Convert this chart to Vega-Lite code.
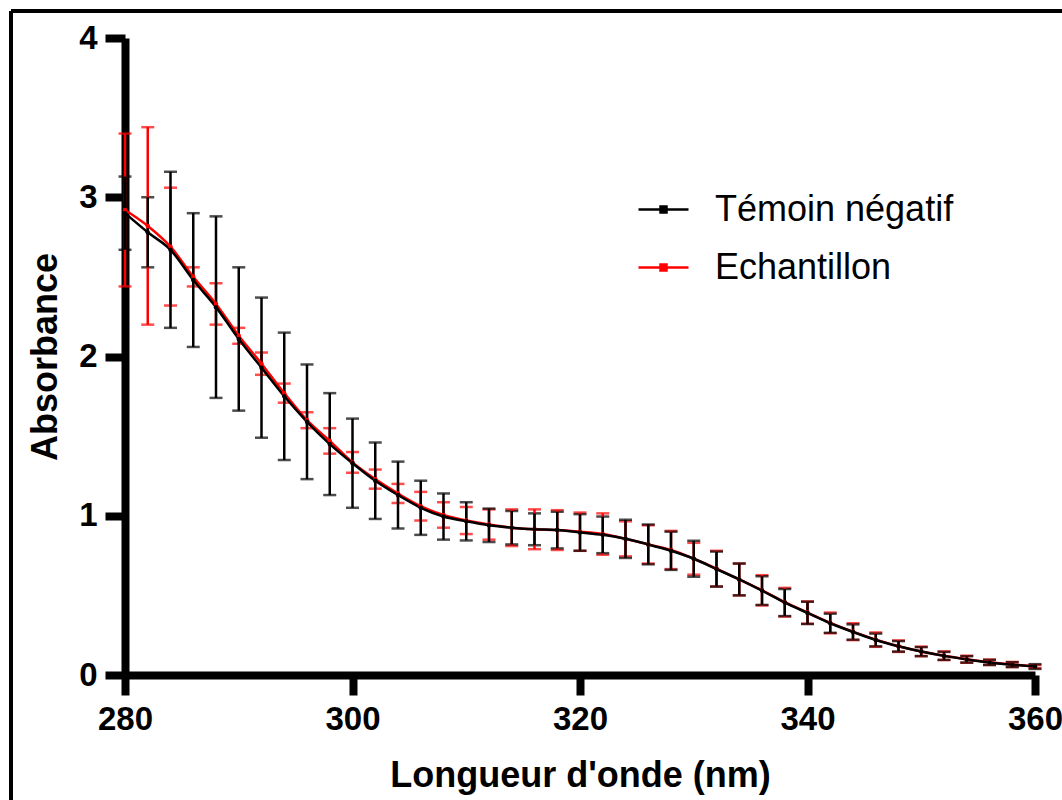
{
  "$schema": "https://vega.github.io/schema/vega-lite/v6.json",
  "width": 910,
  "height": 637,
  "autosize": {"type": "none"},
  "padding": {"left": 125, "top": 38, "right": 27, "bottom": 125},
  "background": "white",
  "config": {
    "view": {"stroke": null},
    "axis": {
      "grid": false,
      "domainColor": "black",
      "domainWidth": 8,
      "tickColor": "black",
      "tickWidth": 8,
      "tickSize": 20,
      "labelFont": "Liberation Sans",
      "labelFontWeight": "bold",
      "labelFontSize": 33,
      "labelColor": "black",
      "titleFont": "Liberation Sans",
      "titleFontWeight": "bold",
      "titleFontSize": 36,
      "titleColor": "black",
      "labelFlush": false,
      "labelOverlap": false
    }
  },
  "data": {
    "values": [
      {"wl": 280, "serie": "Echantillon", "mean": 2.92, "sd": 0.48},
      {"wl": 282, "serie": "Echantillon", "mean": 2.82, "sd": 0.62},
      {"wl": 284, "serie": "Echantillon", "mean": 2.69, "sd": 0.37},
      {"wl": 286, "serie": "Echantillon", "mean": 2.5, "sd": 0.06},
      {"wl": 288, "serie": "Echantillon", "mean": 2.33, "sd": 0.13},
      {"wl": 290, "serie": "Echantillon", "mean": 2.13, "sd": 0.05},
      {"wl": 292, "serie": "Echantillon", "mean": 1.955, "sd": 0.07},
      {"wl": 294, "serie": "Echantillon", "mean": 1.77, "sd": 0.06},
      {"wl": 296, "serie": "Echantillon", "mean": 1.6, "sd": 0.05},
      {"wl": 298, "serie": "Echantillon", "mean": 1.47, "sd": 0.08},
      {"wl": 300, "serie": "Echantillon", "mean": 1.335, "sd": 0.065},
      {"wl": 302, "serie": "Echantillon", "mean": 1.23, "sd": 0.06},
      {"wl": 304, "serie": "Echantillon", "mean": 1.14, "sd": 0.06},
      {"wl": 306, "serie": "Echantillon", "mean": 1.06, "sd": 0.09},
      {"wl": 308, "serie": "Echantillon", "mean": 1.005, "sd": 0.08},
      {"wl": 310, "serie": "Echantillon", "mean": 0.97, "sd": 0.085},
      {"wl": 312, "serie": "Echantillon", "mean": 0.945, "sd": 0.095},
      {"wl": 314, "serie": "Echantillon", "mean": 0.925, "sd": 0.115},
      {"wl": 316, "serie": "Echantillon", "mean": 0.915, "sd": 0.125},
      {"wl": 318, "serie": "Echantillon", "mean": 0.91, "sd": 0.125},
      {"wl": 320, "serie": "Echantillon", "mean": 0.9, "sd": 0.12},
      {"wl": 322, "serie": "Echantillon", "mean": 0.885, "sd": 0.13},
      {"wl": 324, "serie": "Echantillon", "mean": 0.855, "sd": 0.11},
      {"wl": 326, "serie": "Echantillon", "mean": 0.82, "sd": 0.12},
      {"wl": 328, "serie": "Echantillon", "mean": 0.785, "sd": 0.12},
      {"wl": 330, "serie": "Echantillon", "mean": 0.73, "sd": 0.1},
      {"wl": 332, "serie": "Echantillon", "mean": 0.668, "sd": 0.112},
      {"wl": 334, "serie": "Echantillon", "mean": 0.6, "sd": 0.1},
      {"wl": 336, "serie": "Echantillon", "mean": 0.532, "sd": 0.095},
      {"wl": 338, "serie": "Echantillon", "mean": 0.457, "sd": 0.09},
      {"wl": 340, "serie": "Echantillon", "mean": 0.392, "sd": 0.07},
      {"wl": 342, "serie": "Echantillon", "mean": 0.327, "sd": 0.065},
      {"wl": 344, "serie": "Echantillon", "mean": 0.272, "sd": 0.053},
      {"wl": 346, "serie": "Echantillon", "mean": 0.222, "sd": 0.045},
      {"wl": 348, "serie": "Echantillon", "mean": 0.181, "sd": 0.036},
      {"wl": 350, "serie": "Echantillon", "mean": 0.148, "sd": 0.03},
      {"wl": 352, "serie": "Echantillon", "mean": 0.121, "sd": 0.027},
      {"wl": 354, "serie": "Echantillon", "mean": 0.099, "sd": 0.022},
      {"wl": 356, "serie": "Echantillon", "mean": 0.08, "sd": 0.017},
      {"wl": 358, "serie": "Echantillon", "mean": 0.066, "sd": 0.016},
      {"wl": 360, "serie": "Echantillon", "mean": 0.053, "sd": 0.01},
      {"wl": 280, "serie": "Témoin négatif", "mean": 2.9, "sd": 0.23},
      {"wl": 282, "serie": "Témoin négatif", "mean": 2.78, "sd": 0.22},
      {"wl": 284, "serie": "Témoin négatif", "mean": 2.67, "sd": 0.49},
      {"wl": 286, "serie": "Témoin négatif", "mean": 2.48, "sd": 0.42},
      {"wl": 288, "serie": "Témoin négatif", "mean": 2.31, "sd": 0.57},
      {"wl": 290, "serie": "Témoin négatif", "mean": 2.11, "sd": 0.45},
      {"wl": 292, "serie": "Témoin négatif", "mean": 1.93, "sd": 0.44},
      {"wl": 294, "serie": "Témoin négatif", "mean": 1.75, "sd": 0.4},
      {"wl": 296, "serie": "Témoin négatif", "mean": 1.59, "sd": 0.36},
      {"wl": 298, "serie": "Témoin négatif", "mean": 1.45, "sd": 0.32},
      {"wl": 300, "serie": "Témoin négatif", "mean": 1.33, "sd": 0.28},
      {"wl": 302, "serie": "Témoin négatif", "mean": 1.22, "sd": 0.24},
      {"wl": 304, "serie": "Témoin négatif", "mean": 1.13, "sd": 0.21},
      {"wl": 306, "serie": "Témoin négatif", "mean": 1.05, "sd": 0.17},
      {"wl": 308, "serie": "Témoin négatif", "mean": 0.995, "sd": 0.145},
      {"wl": 310, "serie": "Témoin négatif", "mean": 0.965, "sd": 0.12},
      {"wl": 312, "serie": "Témoin négatif", "mean": 0.94, "sd": 0.105},
      {"wl": 314, "serie": "Témoin négatif", "mean": 0.925, "sd": 0.105},
      {"wl": 316, "serie": "Témoin négatif", "mean": 0.915, "sd": 0.1},
      {"wl": 318, "serie": "Témoin négatif", "mean": 0.91, "sd": 0.115},
      {"wl": 320, "serie": "Témoin négatif", "mean": 0.895, "sd": 0.115},
      {"wl": 322, "serie": "Témoin négatif", "mean": 0.88, "sd": 0.115},
      {"wl": 324, "serie": "Témoin négatif", "mean": 0.855, "sd": 0.12},
      {"wl": 326, "serie": "Témoin négatif", "mean": 0.82, "sd": 0.125},
      {"wl": 328, "serie": "Témoin négatif", "mean": 0.78, "sd": 0.12},
      {"wl": 330, "serie": "Témoin négatif", "mean": 0.73, "sd": 0.113},
      {"wl": 332, "serie": "Témoin négatif", "mean": 0.665, "sd": 0.11},
      {"wl": 334, "serie": "Témoin négatif", "mean": 0.6, "sd": 0.1},
      {"wl": 336, "serie": "Témoin négatif", "mean": 0.53, "sd": 0.09},
      {"wl": 338, "serie": "Témoin négatif", "mean": 0.455, "sd": 0.085},
      {"wl": 340, "serie": "Témoin négatif", "mean": 0.39, "sd": 0.07},
      {"wl": 342, "serie": "Témoin négatif", "mean": 0.325, "sd": 0.06},
      {"wl": 344, "serie": "Témoin négatif", "mean": 0.27, "sd": 0.048},
      {"wl": 346, "serie": "Témoin négatif", "mean": 0.22, "sd": 0.04},
      {"wl": 348, "serie": "Témoin négatif", "mean": 0.18, "sd": 0.033},
      {"wl": 350, "serie": "Témoin négatif", "mean": 0.147, "sd": 0.028},
      {"wl": 352, "serie": "Témoin négatif", "mean": 0.12, "sd": 0.025},
      {"wl": 354, "serie": "Témoin négatif", "mean": 0.098, "sd": 0.02},
      {"wl": 356, "serie": "Témoin négatif", "mean": 0.079, "sd": 0.016},
      {"wl": 358, "serie": "Témoin négatif", "mean": 0.065, "sd": 0.015},
      {"wl": 360, "serie": "Témoin négatif", "mean": 0.053, "sd": 0.015}
    ]
  },
  "encoding": {
    "x": {
      "field": "wl",
      "type": "quantitative",
      "title": "Longueur d'onde (nm)",
      "scale": {"domain": [280, 360], "nice": false, "zero": false},
      "axis": {"values": [280, 300, 320, 340, 360], "labelPadding": 8, "titlePadding": 22}
    },
    "y": {
      "field": "mean",
      "type": "quantitative",
      "title": "Absorbance",
      "scale": {"domain": [0, 4], "nice": false},
      "axis": {"values": [0, 1, 2, 3, 4], "labelPadding": 8, "titlePadding": 14}
    },
    "color": {
      "field": "serie",
      "type": "nominal",
      "scale": {"domain": ["Témoin négatif", "Echantillon"], "range": ["#000000", "#ff0000"]},
      "legend": {
        "title": null,
        "orient": "none",
        "legendX": 512,
        "legendY": 145,
        "padding": 0,
        "symbolType": "M-1,0H1M-0.12,-0.12H0.12V0.12H-0.12Z",
        "symbolSize": 2500,
        "symbolStrokeWidth": 2.5,
        "labelFont": "Liberation Sans",
        "labelFontSize": 36,
        "labelColor": "black",
        "labelOffset": 25,
        "rowPadding": 13,
        "labelLimit": 400,
        "encode": {
          "symbols": {
            "update": {
              "fill": {"scale": "color", "field": "value"},
              "stroke": {"scale": "color", "field": "value"}
            }
          }
        }
      }
    }
  },
  "layer": [
    {
      "mark": {"type": "errorbar", "ticks": {"size": 13, "thickness": 2.5}, "thickness": 2.5},
      "encoding": {
        "yError": {"field": "sd"}
      }
    },
    {
      "mark": {"type": "line", "strokeWidth": 2.5, "interpolate": "monotone"}
    },
    {
      "mark": {"type": "point", "filled": true, "size": 20, "opacity": 1, "shape": "circle"}
    },
    {
      "mark": {"type": "rule", "color": "black", "strokeWidth": 3.5},
      "encoding": {
        "x": {"datum": 270},
        "x2": {"datum": 385},
        "y": {"datum": 4.17},
        "color": {"value": "black"}
      }
    },
    {
      "mark": {"type": "rule", "color": "black", "strokeWidth": 3.5},
      "encoding": {
        "x": {"datum": 270},
        "y": {"datum": 4.17},
        "y2": {"datum": -1},
        "color": {"value": "black"}
      }
    }
  ]
}
